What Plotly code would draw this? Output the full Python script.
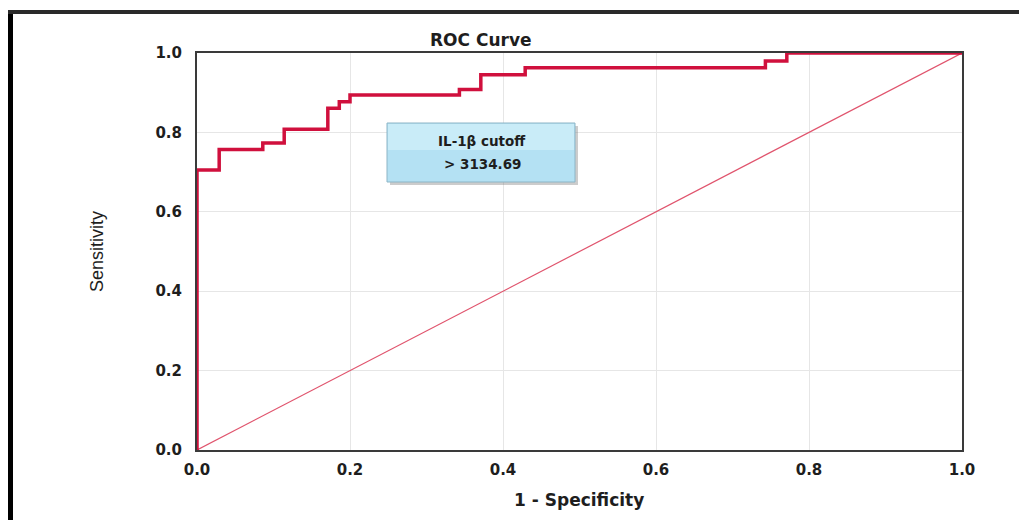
import plotly.graph_objects as go

# ROC curve data
fpr = [0.0, 0.0, 0.029, 0.029, 0.086, 0.086, 0.114, 0.114, 0.171, 0.171, 0.186, 0.186, 0.2, 0.2,
       0.343, 0.343, 0.371, 0.371, 0.429, 0.429, 0.743, 0.743, 0.771, 0.771, 1.0]
tpr = [0.0, 0.705, 0.705, 0.757, 0.757, 0.773, 0.773, 0.808, 0.808, 0.861, 0.861, 0.877, 0.877, 0.894,
       0.894, 0.908, 0.908, 0.945, 0.945, 0.963, 0.963, 0.98, 0.98, 1.0, 1.0]
ref_x = [0.0, 1.0]
ref_y = [0.0, 1.0]
ticks = [0.0, 0.2, 0.4, 0.6, 0.8, 1.0]
tick_text = ["0.0", "0.2", "0.4", "0.6", "0.8", "1.0"]

# page body has an 8px margin; figure sized to fit the 1027x520 window
OFF = 8
W, H = 1027 - OFF, 520 - OFF
L, T = 197 - OFF, 53 - OFF
R, B = W - (962 - OFF), H - (450 - OFF)
pw, ph = W - L - R, H - T - B

def px2x(px):
    return (px - OFF - L) / pw

def py2y(py):
    return (H - B - (py - OFF)) / ph

fig = go.Figure()
fig.add_trace(go.Scatter(x=ref_x, y=ref_y, mode="lines",
                         line=dict(color="#e0546d", width=1.2), hoverinfo="skip"))
fig.add_trace(go.Scatter(x=fpr, y=tpr, mode="lines",
                         line=dict(color="#d0103d", width=3.5), hoverinfo="skip"))

tickfont = dict(family="DejaVu Sans, Verdana, sans-serif", size=15, color="#1e1e1e", weight="bold")
fig.update_xaxes(range=[0, 1], tickvals=ticks, ticktext=tick_text, showgrid=True,
                 gridcolor="#e6e6e6", gridwidth=1, showline=True, linecolor="#3a3a3a",
                 linewidth=2, mirror=True, zeroline=False, ticks="", tickfont=tickfont,
                 ticklabelstandoff=5)
fig.update_yaxes(range=[0, 1], tickvals=ticks, ticktext=tick_text, showgrid=True,
                 gridcolor="#e6e6e6", gridwidth=1, showline=True, linecolor="#3a3a3a",
                 linewidth=2, mirror=True, zeroline=False, ticks="", tickfont=tickfont,
                 ticklabelstandoff=10)

bold_font = "DejaVu Sans, Verdana, sans-serif"
annots = [
    dict(text="<b>ROC Curve</b>", x=px2x(481), y=py2y(40), xref="paper", yref="paper",
         xanchor="center", yanchor="middle", showarrow=False,
         font=dict(family=bold_font, size=17, color="#1e1e1e")),
    dict(text="<b>1 - Specificity</b>", x=px2x(579), y=py2y(500), xref="paper", yref="paper",
         xanchor="center", yanchor="middle", showarrow=False,
         font=dict(family=bold_font, size=17, color="#1e1e1e")),
    dict(text="Sensitivity", x=px2x(97), y=py2y(252), xref="paper", yref="paper", textangle=-90,
         xanchor="center", yanchor="middle", showarrow=False,
         font=dict(family="Liberation Sans, Arial, sans-serif", size=18, color="#1e1e1e")),
    dict(text="<b>IL-1β cutoff</b>", x=px2x(482), y=py2y(141), xref="paper", yref="paper",
         xanchor="center", yanchor="middle", showarrow=False,
         font=dict(family=bold_font, size=13.5, color="#1e1e1e")),
    dict(text="<b>&gt; 3134.69</b>", x=px2x(483), y=py2y(164), xref="paper", yref="paper",
         xanchor="center", yanchor="middle", showarrow=False,
         font=dict(family=bold_font, size=13.5, color="#1e1e1e")),
]

shapes = [
    # annotation box shadow
    dict(type="rect", xref="paper", yref="paper", x0=px2x(390), x1=px2x(578), y0=py2y(126), y1=py2y(185),
         fillcolor="rgba(110,110,110,0.35)", line=dict(width=0), layer="above"),
    # annotation box (two-tone to suggest gradient)
    dict(type="rect", xref="paper", yref="paper", x0=px2x(387), x1=px2x(575), y0=py2y(123), y1=py2y(182),
         fillcolor="#b4e1f3", line=dict(color="#8db5c6", width=1), layer="above"),
    dict(type="rect", xref="paper", yref="paper", x0=px2x(388), x1=px2x(574), y0=py2y(124), y1=py2y(150),
         fillcolor="#c9ecf8", line=dict(width=0), layer="above"),
    # outer frame
    dict(type="line", xref="paper", yref="paper", x0=px2x(10.5), x1=px2x(10.5), y0=py2y(10), y1=py2y(530),
         line=dict(color="#000000", width=5)),
    dict(type="line", xref="paper", yref="paper", x0=px2x(8), x1=px2x(1040), y0=py2y(12), y1=py2y(12),
         line=dict(color="#2a2a2a", width=4)),
]

fig.update_layout(width=W, height=H, margin=dict(l=L, r=R, t=T, b=B),
                  paper_bgcolor="white", plot_bgcolor="white", showlegend=False,
                  annotations=annots, shapes=shapes)

fig.write_html("out.html")
